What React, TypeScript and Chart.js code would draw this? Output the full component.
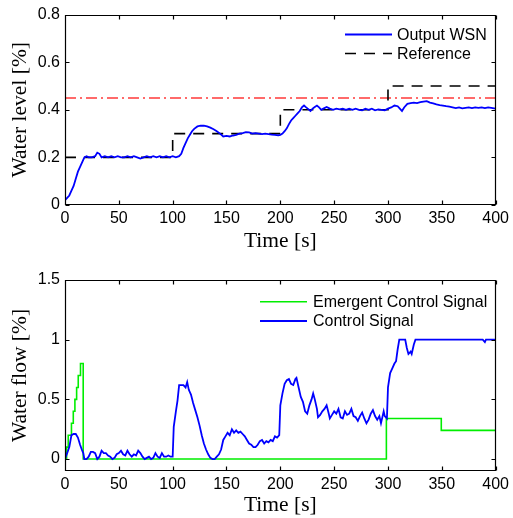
import React, { useEffect, useRef } from "react";
import { Chart, registerables } from "chart.js";

Chart.register(...registerables);

// ---------- Data ----------
const timeTicks = [0, 50, 100, 150, 200, 250, 300, 350, 400];
const levelTicks = [0, 0.2, 0.4, 0.6, 0.8];
const flowTicks = [0, 0.5, 1, 1.5];

const wsnTime = [0, 2, 4, 6, 8, 10, 12, 14, 16, 18, 20, 22, 25, 28, 30, 32, 34, 37, 40, 43, 46, 49, 52, 55, 58, 61, 64, 67, 70, 73, 76, 79, 82, 85, 88, 91, 94, 97, 100, 103, 106, 108, 110, 112, 114, 116, 118, 120, 123, 126, 129, 132, 135, 138, 141, 144, 147, 150, 153, 156, 159, 162, 165, 168, 171, 174, 177, 180, 183, 186, 189, 192, 195, 198, 200, 202, 204, 206, 208, 210, 212, 214, 216, 218, 220, 222, 224, 226, 228, 230, 232, 234, 236, 238, 240, 243, 246, 249, 252, 255, 258, 261, 264, 267, 270, 273, 276, 279, 282, 285, 288, 291, 294, 297, 300, 303, 306, 309, 311, 313, 315, 318, 321, 324, 327, 330, 333, 336, 339, 342, 345, 348, 351, 354, 357, 360, 363, 366, 369, 372, 375, 378, 381, 384, 387, 390, 393, 396, 400];
const wsnLevel = [0.02, 0.03, 0.04, 0.06, 0.08, 0.11, 0.14, 0.16, 0.18, 0.2, 0.205, 0.2, 0.2, 0.205, 0.22, 0.215, 0.2, 0.205, 0.2, 0.205, 0.2, 0.205, 0.2, 0.2, 0.205, 0.2, 0.205, 0.2, 0.195, 0.2, 0.205, 0.2, 0.205, 0.2, 0.205, 0.2, 0.205, 0.2, 0.205, 0.2, 0.205, 0.215, 0.24, 0.26, 0.28, 0.295, 0.31, 0.32, 0.33, 0.333, 0.333, 0.33, 0.325, 0.318, 0.31, 0.3, 0.288, 0.29, 0.288, 0.292, 0.295, 0.3, 0.302, 0.306, 0.305, 0.3, 0.302, 0.3, 0.298, 0.3, 0.298, 0.296, 0.295, 0.293, 0.295, 0.3, 0.31, 0.322, 0.34, 0.355, 0.365, 0.375, 0.385, 0.395, 0.41, 0.418, 0.41, 0.403, 0.395, 0.405, 0.412, 0.418, 0.41, 0.4, 0.405, 0.412, 0.405, 0.4, 0.405, 0.402, 0.405, 0.4, 0.405, 0.4, 0.405, 0.4, 0.398, 0.405, 0.4, 0.405, 0.398, 0.402, 0.4, 0.398, 0.405, 0.41, 0.418, 0.415, 0.405, 0.395, 0.41, 0.425, 0.428, 0.43, 0.428, 0.432, 0.434, 0.436, 0.43, 0.427, 0.423, 0.42, 0.418, 0.415, 0.413, 0.41, 0.407, 0.41, 0.406, 0.408, 0.41, 0.407, 0.41, 0.408, 0.41, 0.407, 0.41, 0.408, 0.405];

const refTime = [0, 100, 200, 300, 400];
const refLevel = [0.2, 0.3, 0.4, 0.5, 0.5];

const limitTime = [0, 400];
const limitLevel = [0.45, 0.45];

const emergTime = [0, 1.5, 3, 6, 7.7, 9.2, 10.8, 12.3, 14.4, 16.9, 298.5, 349.5, 400];
const emergFlow = [0, 0.1, 0.2, 0.3, 0.4, 0.5, 0.6, 0.7, 0.8, 0, 0.34, 0.24, 0.24];

const ctrlTime = [0, 2, 4, 6, 8, 10, 12, 14, 16, 17, 18, 20, 22, 24, 26, 28, 30, 32, 34, 36, 38, 40, 42, 44, 46, 48, 50, 52, 54, 56, 58, 60, 62, 64, 66, 68, 70, 72, 74, 76, 78, 80, 82, 84, 86, 88, 90, 92, 94, 96, 98, 100, 101, 103, 104.5, 106, 108, 110, 112, 113.5, 115, 117, 119, 121, 123, 125, 127, 129, 131, 133, 135, 137, 139, 141, 143, 145, 147, 149, 151, 153, 155, 157, 159, 161, 163, 165, 167, 169, 171, 173, 175, 177, 179, 181, 183, 185, 187, 189, 191, 193, 195, 197, 199, 200, 202, 204, 206, 208, 210, 212, 214, 215, 217, 219, 221, 223, 225, 227, 229, 230.5, 232, 234, 235, 237, 239, 241, 243, 245, 246, 248, 250, 252, 254, 256, 258, 260, 262, 264, 266, 268, 270, 272, 274, 276, 278, 280, 282, 284, 286, 288, 290, 292, 293.5, 295, 296, 297, 299, 300, 302, 304, 306, 307.5, 309, 310.5, 316, 317.5, 319, 321, 322, 324, 325.5, 388, 390, 391, 400];
const ctrlFlow = [0, 0.05, 0.1, 0.2, 0.21, 0.21, 0.18, 0.12, 0.07, 0.05, 0, 0, 0.02, 0.06, 0.06, 0.05, 0, 0.02, 0.07, 0.05, 0.05, 0.03, 0.02, 0, 0.01, 0.04, 0.05, 0.07, 0.04, 0.03, 0.07, 0.04, 0.02, 0.04, 0.03, 0.07, 0.05, 0.02, 0, 0.01, 0.02, 0, 0.01, 0.05, 0.02, 0.01, 0.05, 0.02, 0.02, 0.03, 0.02, 0.02, 0.27, 0.4, 0.49, 0.62, 0.62, 0.62, 0.6, 0.645, 0.58, 0.54, 0.47, 0.41, 0.35, 0.28, 0.2, 0.13, 0.08, 0.04, 0.01, 0, 0, 0.02, 0.04, 0.08, 0.16, 0.19, 0.22, 0.2, 0.25, 0.22, 0.24, 0.22, 0.23, 0.21, 0.19, 0.16, 0.13, 0.12, 0.1, 0.1, 0.12, 0.15, 0.16, 0.13, 0.15, 0.14, 0.16, 0.15, 0.19, 0.18, 0.2, 0.45, 0.55, 0.63, 0.66, 0.67, 0.63, 0.62, 0.67, 0.68, 0.6, 0.52, 0.48, 0.4, 0.38, 0.45, 0.5, 0.55, 0.5, 0.42, 0.35, 0.37, 0.4, 0.42, 0.45, 0.38, 0.34, 0.37, 0.4, 0.38, 0.42, 0.35, 0.34, 0.4, 0.37, 0.38, 0.42, 0.36, 0.35, 0.32, 0.36, 0.39, 0.34, 0.3, 0.33, 0.38, 0.41, 0.36, 0.33, 0.36, 0.3, 0.36, 0.4, 0.36, 0.34, 0.6, 0.72, 0.76, 0.8, 0.82, 0.92, 1.0, 1.0, 0.93, 0.88, 0.9, 0.88, 0.96, 1.0, 1.0, 0.98, 1.0, 1.0];

// ---------- Helpers ----------
const toXY = (xs: number[], ys: number[]) => xs.map((x, i) => ({ x, y: ys[i] }));

const SANS = "'Liberation Sans', Arial, sans-serif";
const SERIF = "'Liberation Serif', 'Times New Roman', serif";

const framePlugin = {
  id: "frame",
  afterDraw(chart: any, _args: any, opts: any) {
    const { ctx, chartArea: a, scales } = chart;
    ctx.save();
    ctx.strokeStyle = "#000";
    ctx.lineWidth = 1.2;
    ctx.setLineDash([]);
    const l = Math.round(a.left) + 0.5;
    const t = Math.round(a.top) + 0.5;
    const r = Math.round(a.right) - 0.5;
    const b = Math.round(a.bottom) - 0.5;
    ctx.beginPath();
    ctx.rect(l, t, r - l, b - t);
    const L = 4;
    scales.x.ticks.forEach((tk: any) => {
      const px = Math.round(scales.x.getPixelForValue(tk.value)) + 0.5;
      ctx.moveTo(px, b);
      ctx.lineTo(px, b - L);
      ctx.moveTo(px, t);
      ctx.lineTo(px, t + L);
    });
    scales.y.ticks.forEach((tk: any) => {
      const py = Math.round(scales.y.getPixelForValue(tk.value)) + 0.5;
      ctx.moveTo(l, py);
      ctx.lineTo(l + L, py);
      ctx.moveTo(r, py);
      ctx.lineTo(r - L, py);
    });
    ctx.stroke();

    // legend
    const lg = opts && opts.legend;
    if (lg) {
      ctx.font = `16px ${SANS}`;
      ctx.textBaseline = "middle";
      ctx.textAlign = "left";
      lg.items.forEach((idx: number, i: number) => {
        const ds = chart.data.datasets[idx];
        const y = lg.rows[i];
        ctx.beginPath();
        ctx.strokeStyle = ds.borderColor;
        ctx.lineWidth = ds.borderWidth;
        ctx.setLineDash(ds.borderDash || []);
        ctx.moveTo(lg.x1, y);
        ctx.lineTo(lg.x2, y);
        ctx.stroke();
        ctx.setLineDash([]);
        ctx.fillStyle = "#000";
        ctx.fillText(ds.label, lg.tx, y + 1);
      });
    }
    ctx.restore();
  },
};

const fixedTicks = (vals: number[]) => (scale: any) => {
  scale.ticks = vals.map((v) => ({ value: v }));
};

function makeOptions(cfg: {
  yMin: number;
  yMax: number;
  yTicks: number[];
  yTitle: string;
  padTop: number;
  xHeight: number;
  xTitlePad: number;
  legend: any;
}) {
  return {
    responsive: false,
    maintainAspectRatio: false,
    animation: false as const,
    layout: { padding: { top: cfg.padTop, right: 14, left: 0, bottom: 0 } },
    plugins: {
      legend: { display: false },
      tooltip: { enabled: false },
      frame: { legend: cfg.legend },
    },
    elements: { point: { radius: 0 }, line: { tension: 0 } },
    scales: {
      x: {
        type: "linear" as const,
        min: 0,
        max: 400,
        afterBuildTicks: fixedTicks(timeTicks),
        afterFit: (s: any) => {
          s.height = cfg.xHeight;
        },
        grid: { display: false, drawTicks: false },
        border: { display: false },
        ticks: {
          padding: 4,
          color: "#000",
          font: { family: SANS, size: 16 },
          maxRotation: 0,
          callback: (v: any) => String(v),
        },
        title: {
          display: true,
          text: "Time [s]",
          color: "#000",
          font: { family: SERIF, size: 21.5 },
          padding: { top: 0, bottom: cfg.xTitlePad },
        },
      },
      y: {
        type: "linear" as const,
        min: cfg.yMin,
        max: cfg.yMax,
        afterBuildTicks: fixedTicks(cfg.yTicks),
        afterFit: (s: any) => {
          s.width = 65;
        },
        grid: { display: false, drawTicks: false },
        border: { display: false },
        ticks: {
          padding: 5,
          color: "#000",
          font: { family: SANS, size: 16 },
          callback: (v: any) => String(v),
        },
        title: {
          display: true,
          text: cfg.yTitle,
          color: "#000",
          font: { family: SERIF, size: 21.5 },
          padding: { top: 7, bottom: 0 },
        },
      },
    },
  };
}

export default function App() {
  const topRef = useRef<HTMLCanvasElement | null>(null);
  const botRef = useRef<HTMLCanvasElement | null>(null);

  useEffect(() => {
    const top = new Chart(topRef.current as HTMLCanvasElement, {
      type: "line",
      data: {
        datasets: [
          {
            label: "Output WSN",
            data: toXY(wsnTime, wsnLevel),
            borderColor: "#0000ff",
            borderWidth: 1.8,
            pointRadius: 0,
          },
          {
            label: "Reference",
            data: toXY(refTime, refLevel),
            borderColor: "#000000",
            borderWidth: 1.6,
            borderDash: [11, 8],
            stepped: "before",
            pointRadius: 0,
          },
          {
            label: "Limit",
            data: toXY(limitTime, limitLevel),
            borderColor: "#ff3a3a",
            borderWidth: 1.5,
            borderDash: [11, 4, 2, 4],
            pointRadius: 0,
          },
        ],
      },
      options: makeOptions({
        yMin: 0,
        yMax: 0.8,
        yTicks: levelTicks,
        yTitle: "Water level [%]",
        padTop: 14,
        xHeight: 50,
        xTitlePad: 1,
        legend: { items: [0, 1], rows: [34.5, 53.5], x1: 345, x2: 392, tx: 397 },
      }) as any,
      plugins: [framePlugin as any],
    });

    const bot = new Chart(botRef.current as HTMLCanvasElement, {
      type: "line",
      data: {
        datasets: [
          {
            label: "Control Signal",
            data: toXY(ctrlTime, ctrlFlow),
            borderColor: "#0000ff",
            borderWidth: 1.8,
            pointRadius: 0,
          },
          {
            label: "Emergent Control Signal",
            data: toXY(emergTime, emergFlow),
            borderColor: "#00ee00",
            borderWidth: 1.6,
            stepped: "before",
            pointRadius: 0,
          },
        ],
      },
      options: makeOptions({
        yMin: -0.1,
        yMax: 1.5,
        yTicks: flowTicks,
        yTitle: "Water flow [%]",
        padTop: 25,
        xHeight: 47,
        xTitlePad: 0,
        legend: { items: [1, 0], rows: [46.7, 66], x1: 260, x2: 307, tx: 313 },
      }) as any,
      plugins: [framePlugin as any],
    });

    return () => {
      top.destroy();
      bot.destroy();
    };
  }, []);

  return (
    <div style={{ position: "absolute", left: 0, top: 0, width: 513, height: 518, background: "#fff" }}>
      <canvas ref={topRef} width={513} height={255} style={{ position: "absolute", left: 0, top: 0 }} />
      <canvas ref={botRef} width={513} height={263} style={{ position: "absolute", left: 0, top: 255 }} />
    </div>
  );
}
